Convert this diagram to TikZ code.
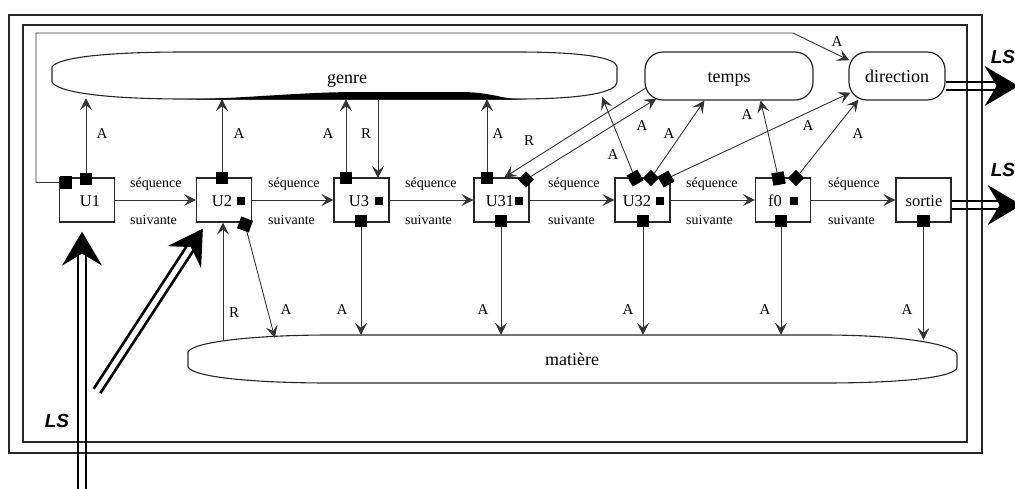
\documentclass[tikz,border=0pt]{standalone}
\usepackage{fontspec}
\setmainfont{Liberation Serif}
\newfontfamily\lsfont{Liberation Sans}
\usetikzlibrary{arrows.meta,calc}
\newcommand{\lsarrow}[2]{%
  \coordinate (lsN) at ($(#2)!22pt!(#1)$);
  \fill[black] (#2) -- ($(#2)!34pt!(#1)!20pt!90:(#2)$) -- (lsN) -- ($(#2)!34pt!(#1)!20pt!-90:(#2)$) -- cycle;
  \draw[line width=2.6pt] ($(#1)!4pt!90:(#2)$) -- ($(lsN)!4pt!-90:(#1)$);
  \draw[line width=2.6pt] ($(#1)!4pt!-90:(#2)$) -- ($(lsN)!4pt!90:(#1)$);
}
\begin{document}
\begin{tikzpicture}[x=1pt,y=-1pt,
  conn/.style={draw=black!80, line width=0.9pt, -{Stealth[length=12pt,width=12pt,inset=5pt]}},
  outline/.style={draw=black!85, line width=1.1pt},
  frame/.style={draw=black!85, line width=2.5pt},
  box/.style={draw=black!85, line width=1.2pt, minimum width=55pt, minimum height=44pt, inner sep=0pt},
  sq/.style={fill=black, minimum size=12.5pt, inner sep=0pt},
  dsq/.style={fill=black, minimum size=11.5pt, inner sep=0pt, rotate=45},
  isq/.style={fill=black, minimum size=8pt, inner sep=0pt},
  lbl/.style={font=\fontsize{16.5}{18}\selectfont, inner sep=0pt, anchor=base},
  big/.style={font=\fontsize{18}{20}\selectfont, inner sep=0pt, anchor=base},
  albl/.style={font=\fontsize{15}{17}\selectfont, inner sep=0pt, anchor=base},
  seq/.style={font=\fontsize{14}{16}\selectfont, inner sep=0pt, anchor=base west},
  rbox/.style={draw=black!85, line width=1.2pt, rounded corners=18pt, minimum height=48pt, inner sep=0pt,
    font=\fontsize{18}{20}\selectfont, text height=12pt, text depth=0pt},
  lsl/.style={font=\lsfont\bfseries\itshape\fontsize{19}{21}\selectfont, inner sep=0pt},
]
\useasboundingbox (0,0) rectangle (1015,488);
\clip (0,0) rectangle (1015,488);

% frames
\draw[frame] (9,15) rectangle (982,453);
\draw[frame] (23,25) rectangle (967,442);

% genre
\node[minimum width=565pt, minimum height=47pt, inner sep=0pt] (genre) at (334.5,75.5) {};
\draw[outline] (52,67) -- (52,82) .. controls (58,93) and (110,99) .. (185,99) -- (517,99)
  .. controls (585,99) and (617,92) .. (617,82) -- (617,67)
  .. controls (617,58) and (585,52) .. (517,52) -- (185,52)
  .. controls (110,52) and (58,57) .. (52,67) -- cycle;
\fill[black] (185,99.6) .. controls (260,97.5) and (300,92) .. (360,92) -- (460,92)
  .. controls (490,92) and (500,98.5) .. (522,99.6) -- cycle;
\node[big] at (347,83) {genre};

% temps, direction
\node[rbox, minimum width=168pt] (temps) at (729,76) {temps};
\node[rbox, minimum width=96pt] (direction) at (897,76) {direction};

% matiere
\node[minimum width=769pt, minimum height=48pt, inner sep=0pt] (matiere) at (572.5,359) {};
\draw[outline] (188,352) -- (188,367) .. controls (194,378) and (260,383) .. (330,383) -- (823,383)
  .. controls (905,383) and (957,377) .. (957,367) -- (957,355)
  .. controls (957,345) and (905,335) .. (823,335) -- (330,335)
  .. controls (260,335) and (194,341) .. (188,352) -- cycle;
\node[big] at (572,365) {matière};

% boxes
\node[box] (U1) at (87,200) {};
\node[box] (U2) at (224,200) {};
\node[box] (U3) at (361.5,200) {};
\node[box] (U31) at (501.5,200) {};
\node[box] (U32) at (642.5,200) {};
\node[box] (f0) at (783,200) {};
\node[box] (sortie) at (923.5,200) {};
\node[lbl] at (90,206) {U1};
\node[lbl] at (222,206) {U2};
\node[lbl] at (359,206) {U3};
\node[lbl] at (500,206) {U31};
\node[lbl] at (637,206) {U32};
\node[lbl] at (775,206) {f0};
\node[lbl] at (924,206) {sortie};

% squares
\node[sq] (u1c) at (66,182.5) {};
\node[sq] (u1a) at (86,179) {};
\node[sq] (u2a) at (222,178) {};
\node[isq] at (241,201) {};
\node[sq, rotate=-20] (u2d) at (245,224.5) {};
\node[sq] (u3a) at (346,178) {};
\node[isq] at (379,201) {};
\node[sq] (u3b) at (361,221) {};
\node[sq] (u31a) at (487,178) {};
\node[dsq] (u31d) at (526,179.5) {};
\node[isq] at (519,201) {};
\node[sq] (u31b) at (501,221) {};
\node[sq, rotate=30] (u32a) at (635,178) {};
\node[dsq] (u32b) at (651,178) {};
\node[sq, rotate=30] (u32c) at (666,179) {};
\node[isq] at (660,201) {};
\node[sq] (u32d) at (643,221) {};
\node[sq, rotate=10] (f0a) at (778.5,178.5) {};
\node[dsq] (f0d) at (796,178) {};
\node[isq] at (794,201) {};
\node[sq] (f0b) at (781,221) {};
\node[sq] (sob) at (923.5,221) {};

% sequence arrows
\draw[conn] (U1.east) -- (U2.west);
\draw[conn] (U2.east) -- (U3.west);
\draw[conn] (U3.east) -- (U31.west);
\draw[conn] (U31.east) -- (U32.west);
\draw[conn] (U32.east) -- (f0.west);
\draw[conn] (f0.east) -- (sortie.west);
\foreach \x in {130,268,405,548,686,828}{
  \node[seq] at (\x,187) {séquence};
  \node[seq] at (\x,224) {suivante};
}

% up connectors
\draw[conn] (u1a) -- ($(u1a.north |- genre.south)+(0,-1)$);
\draw[conn] (u2a) -- (u2a.north |- genre.south);
\draw[conn] (u3a) -- (u3a.north |- genre.south);
\coordinate (rU3) at (378,178);
\draw[conn] (rU3 |- genre.south) -- (rU3);
\draw[conn] (u31a) -- (u31a.north |- genre.south);
\draw[conn] ($(temps.south west)+(2,-13)$) -- ($(U31.north west)+(31,0)$);
\draw[conn] (u31d) -- ($(temps.south west)+(12,-2)$);
\draw[conn] (u32a) -- ($(genre.south east)+(-15,-2)$);
\draw[conn] (u32b) -- ($(temps.south west)+(60,0)$);
\draw[conn] (u32c) -- ($(direction.south west)+(2,-8)$);
\draw[conn] (f0a) -- ($(temps.south east)+(-53,0)$);
\draw[conn] (f0d) -- ($(direction.south west)+(10,-1)$);
\coordinate (loopA) at (36,33);
\coordinate (loopB) at (793,33);
\draw[conn] (u1c.west) -| (loopA) -- (loopB) -- ($(direction.north west)+(1,9)$);

% down connectors
\draw[conn] (u3b) -- (u3b.south |- matiere.north);
\draw[conn] (u31b) -- (u31b.south |- matiere.north);
\draw[conn] (u32d) -- (u32d.south |- matiere.north);
\draw[conn] (f0b) -- (f0b.south |- matiere.north);
\draw[conn] (sob) -- ($(sob.south |- matiere.north)+(0,5)$);
\draw[conn] ($(U2.south |- matiere.north)+(-1,5)$) -- ($(U2.south)+(-1,0)$);
\draw[conn] (u2d) -- ($(matiere.north west)+(87,3)$);

% A / R labels
\node[albl] at (102,138) {A};
\node[albl] at (239,138) {A};
\node[albl] at (328,138) {A};
\node[albl] at (366,138) {R};
\node[albl] at (498,138) {A};
\node[albl] at (529,145) {R};
\node[albl] at (642,130) {A};
\node[albl] at (613,159) {A};
\node[albl] at (669,138) {A};
\node[albl] at (747,119) {A};
\node[albl] at (808,130) {A};
\node[albl] at (858,138) {A};
\node[albl] at (837,46) {A};
\node[albl] at (342,314) {A};
\node[albl] at (483,314) {A};
\node[albl] at (628,314) {A};
\node[albl] at (765,314) {A};
\node[albl] at (907,314) {A};
\node[albl] at (234,317) {R};
\node[albl] at (286,314) {A};

% LS arrows
\coordinate (lsA0) at (82,495);
\coordinate (lsAt) at ($(U1.south)+(-5,9)$);
\coordinate (lsB0) at (97,391);
\coordinate (lsBt) at ($(U2.south west)+(7,6)$);
\coordinate (lsC0) at ($(direction.east)+(0,10)$);
\coordinate (lsCt) at ($(direction.east)+(73,10)$);
\coordinate (lsD0) at ($(sortie.east)+(0,5)$);
\coordinate (lsDt) at ($(sortie.east)+(70,5)$);
\lsarrow{lsA0}{lsAt}
\lsarrow{lsB0}{lsBt}
\lsarrow{lsC0}{lsCt}
\lsarrow{lsD0}{lsDt}
\node[lsl] at (57,421) {LS};
\node[lsl] at (1003,57) {LS};
\node[lsl] at (1003,170) {LS};
\end{tikzpicture}
\end{document}
